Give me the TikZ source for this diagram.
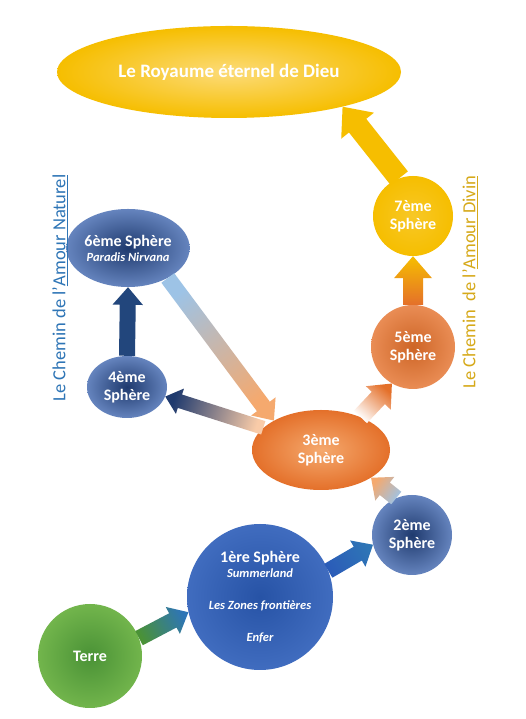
\documentclass[tikz,border=0pt]{standalone}
\usepackage{fontspec}
\setmainfont{Carlito}
\usetikzlibrary{shapes.geometric,calc}

\definecolor{gold}{HTML}{F6BE00}
\definecolor{goldlight}{HTML}{FCDB78}
\definecolor{orangedeep}{HTML}{E4702A}
\definecolor{orangelight}{HTML}{F5A96E}
\definecolor{navy}{HTML}{1F3A6E}
\definecolor{navyedge}{HTML}{6584BE}
\definecolor{royal}{HTML}{2B5CB8}
\definecolor{skyblue}{HTML}{9DC3E6}
\definecolor{grass}{HTML}{4A9236}
\definecolor{grasslight}{HTML}{72B54C}
\definecolor{naturel}{HTML}{2E75B6}
\definecolor{divin}{HTML}{D6A919}

\tikzset{
  sphere/.style={inner sep=0pt, text=white, align=center,
    font=\fontsize{16}{18}\selectfont\bfseries}
}
\newcommand\subtxt[1]{{\fontsize{12.5}{14}\selectfont\itshape #1}}

% #1 half shaft width, #2 start, #3 tip, #4 start colour, #5 tip colour, #6 shading angle
\newcommand\fatarrow[6][8]{%
  \pgfmathsetlengthmacro\headl{2.2*#1}%
  \pgfmathsetlengthmacro\headw{1.9*#1}%
  \coordinate (h) at ($(#3)!\headl!(#2)$);
  \shade[bottom color=#4, top color=#5, shading angle=#6]
    ($(#2)!#1pt!90:(#3)$) -- ($(h)!#1pt!90:(#3)$) -- ($(h)!\headw!90:(#3)$)
    -- (#3) -- ($(h)!\headw!-90:(#3)$) -- ($(h)!#1pt!-90:(#3)$)
    -- ($(#2)!#1pt!-90:(#3)$) -- cycle;
}

\begin{document}
\begin{tikzpicture}[x=1pt,y=1pt]
    \useasboundingbox[fill=white] (0,0) rectangle (525,719);

    % the kingdom
    \node[sphere, ellipse, minimum width=344, minimum height=92,
      inner color=goldlight, outer color=gold, font=\fontsize{19}{21}\selectfont\bfseries] (roy) at (229,647)
      {Le Royaume éternel de Dieu};

    % spheres
    \node[sphere, circle, minimum size=80, inner color=gold!85!white, outer color=gold] (s7) at (413,503) {7ème\\Sphère};
    \node[sphere, circle, minimum size=84, inner color=orangedeep!90!black, outer color=orangedeep!80!white] (s5) at (413,372) {5ème\\Sphère};
    \node[sphere, ellipse, minimum width=106, minimum height=78, inner color=navy, outer color=navyedge] (s6) at (128,471)
      {6ème Sphère\\[-3pt]\subtxt{Paradis Nirvana}};
    \node[sphere, ellipse, minimum width=80, minimum height=62, inner color=navy, outer color=navyedge] (s4) at (127,332) {4ème\\Sphère};
    \node[sphere, ellipse, minimum width=138, minimum height=80, inner color=orangelight, outer color=orangedeep] (s3) at (321,269) {3ème\\Sphère};
    \node[sphere, circle, minimum size=80, inner color=navy, outer color=navyedge] (s2) at (412,184) {2ème\\Sphère};
    \node[sphere, circle, minimum size=146, inner color=royal!90!black, outer color=royal!90!white] (s1) at (260,122)
      {1ère Sphère\\[-3pt]\subtxt{Summerland}\\[14pt]\subtxt{Les Zones frontières}\\[14pt]\subtxt{Enfer}};
    \node[sphere, circle, minimum size=104, inner color=grass, outer color=grasslight] (terre) at (90,63) {Terre};

    % paths
    \node[rotate=90, text=naturel, font=\fontsize{18.5}{20}\selectfont] (naturel) at (60,431)
      {Le Chemin de l'\underline{Amour Naturel}};
    \node[rotate=90, text=divin, font=\fontsize{18.5}{20}\selectfont] (divin) at (470,437)
      {Le Chemin\ \ de l'\underline{Amour Divin}};

    % arrows
    \fatarrow[11]{s7.110}{roy.-17}{gold}{gold}{33.5}
    \fatarrow[10]{s5.north}{s7.south}{orangedeep}{gold}{0}
    \fatarrow[9]{s3.40}{s5.240}{white}{orangedeep}{-41}
    \fatarrow[8]{s6.-37}{s3.148}{skyblue}{orangelight}{-144}
    \fatarrow[7]{s3.159}{s4.-14}{orangelight!60!white}{navy}{72}
    \fatarrow[8]{s4.north}{s6.south}{navy!80!naturel}{navy!80!naturel}{0}
    \fatarrow[8]{s2.113}{s3.-29}{skyblue}{orangelight}{53.5}
    \fatarrow[8]{s1.21}{s2.194}{royal}{naturel}{-60}
    \fatarrow[8]{terre.20}{s1.192}{grass}{naturel}{-62}
\end{tikzpicture}
\end{document}
